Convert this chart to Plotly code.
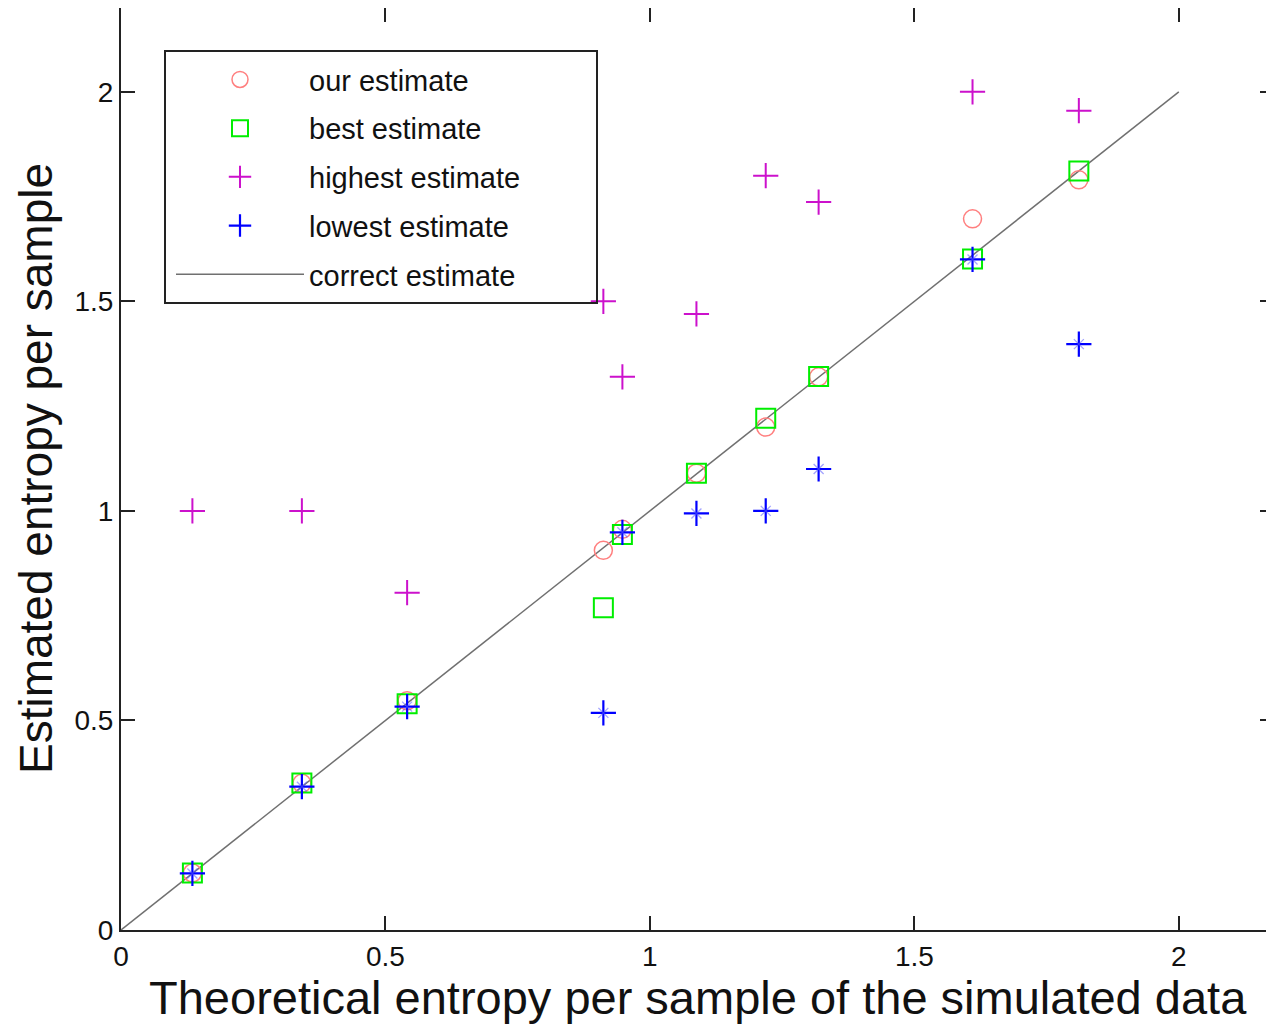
import plotly.graph_objects as go

# Data
theoretical = [0.135, 0.342, 0.541, 0.912, 0.948, 1.088, 1.219, 1.319, 1.610, 1.811]
our_estimate = [0.136, 0.350, 0.547, 0.906, 0.956, 1.090, 1.200, 1.320, 1.697, 1.790]
best_estimate = [0.136, 0.351, 0.540, 0.769, 0.944, 1.090, 1.221, 1.321, 1.601, 1.811]
highest_estimate = [1.000, 1.000, 0.805, 1.500, 1.320, 1.470, 1.800, 1.737, 2.000, 1.955]
lowest_estimate = [0.135, 0.342, 0.533, 0.518, 0.949, 0.994, 1.000, 1.100, 1.600, 1.398]
correct_x = [0, 2]
correct_y = [0, 2]

tick_vals = [0, 0.5, 1, 1.5, 2]
tick_text = ["0", "0.5", "1", "1.5", "2"]

FONT = "Liberation Sans, Arial, sans-serif"
AXC = "#222222"

W, H = 1266, 1016
ML, MT, MB = 113, 0, 94
PW = W - ML
PH = H - MT - MB

fig = go.Figure()

fig.add_trace(go.Scatter(x=correct_x, y=correct_y, mode="lines", name="correct estimate",
                         line=dict(color="#707070", width=1.5), legendgroup="e", legendrank=5))
fig.add_trace(go.Scatter(x=theoretical, y=our_estimate, mode="markers", name="our estimate",
                         marker=dict(symbol="circle-open", size=18, color="#FF7F7F",
                                     line=dict(width=1.5, color="#FF7F7F")),
                         legendgroup="a", legendrank=1))
fig.add_trace(go.Scatter(x=theoretical, y=best_estimate, mode="markers", name="best estimate",
                         marker=dict(symbol="square-open", size=19, color="#00EE00",
                                     line=dict(width=2, color="#00EE00")),
                         legendgroup="b", legendrank=2))
fig.add_trace(go.Scatter(x=theoretical, y=highest_estimate, mode="markers", name="highest estimate",
                         marker=dict(symbol="cross-thin-open", size=18, color="#CC11CC",
                                     line=dict(width=2, color="#CC11CC")),
                         legendgroup="c", legendrank=3))
fig.add_trace(go.Scatter(x=theoretical, y=lowest_estimate, mode="markers", name="lowest estimate",
                         marker=dict(symbol="cross-thin-open", size=18, color="#0000FF",
                                     line=dict(width=2.2, color="#0000FF")),
                         legendgroup="d", legendrank=4))
fig.add_trace(go.Scatter(x=theoretical, y=lowest_estimate, mode="markers", showlegend=False,
                         marker=dict(symbol="x-thin-open", size=10, color="rgba(90,90,255,0.55)",
                                     line=dict(width=1.3, color="rgba(90,90,255,0.55)")),
                         legendgroup="d", hoverinfo="skip"))
# empty trace to attach mirror axes
fig.add_trace(go.Scatter(x=[], y=[], xaxis="x2", yaxis="y2", showlegend=False, hoverinfo="skip"))

axis_common = dict(tickvals=tick_vals, ticktext=tick_text, ticks="inside", ticklen=14,
                   tickwidth=2, tickcolor=AXC, showgrid=False, zeroline=False,
                   tickfont=dict(family=FONT, size=28, color="#111111"))

fig.update_layout(
    width=W, height=H,
    margin=dict(l=ML, r=0, t=MT, b=MB),
    paper_bgcolor="white", plot_bgcolor="white",
    font=dict(family=FONT, color="#111111"),
    xaxis=dict(range=[0, 2.18], showline=True, linecolor=AXC, linewidth=2, **axis_common),
    yaxis=dict(range=[0, 2.2], showline=True, linecolor=AXC, linewidth=2, **axis_common),
    xaxis2=dict(overlaying="x", matches="x", side="top", range=[0, 2.18], showline=True,
                linecolor=AXC, linewidth=2, showticklabels=False,
                tickvals=tick_vals, ticks="inside", ticklen=14, tickwidth=2,
                tickcolor=AXC, showgrid=False, zeroline=False),
    yaxis2=dict(overlaying="y", matches="y", side="right", range=[0, 2.2], showline=False,
                showticklabels=False, tickvals=tick_vals, ticks="inside", ticklen=14,
                tickwidth=2, tickcolor=AXC, showgrid=False, zeroline=False),
    showlegend=True,
    legend=dict(x=50 / PW, y=0.95, xanchor="left", yanchor="top",
                bgcolor="rgba(0,0,0,0)", borderwidth=0,
                font=dict(family=FONT, size=29, color="#111111"),
                traceorder="grouped", tracegroupgap=8, itemwidth=128),
    shapes=[dict(type="rect", xref="paper", yref="paper",
                 x0=(165 - 8 - ML) / PW, x1=(597 - 8 - ML) / PW,
                 y0=(930 - 303) / PH, y1=(930 - 51) / PH,
                 line=dict(color=AXC, width=2), fillcolor="rgba(0,0,0,0)")],
    annotations=[
        dict(text="Theoretical entropy per sample of the simulated data", xref="paper", yref="paper",
             x=0.5, y=0, yshift=-67, xanchor="center", yanchor="middle", showarrow=False,
             font=dict(family=FONT, size=47, color="#111111")),
        dict(text="Estimated entropy per sample", xref="paper", yref="paper",
             x=0, y=0.5, xshift=-85, xanchor="center", yanchor="middle", showarrow=False,
             textangle=-90, font=dict(family=FONT, size=46, color="#111111")),
    ],
)

fig.write_html("out.html")
